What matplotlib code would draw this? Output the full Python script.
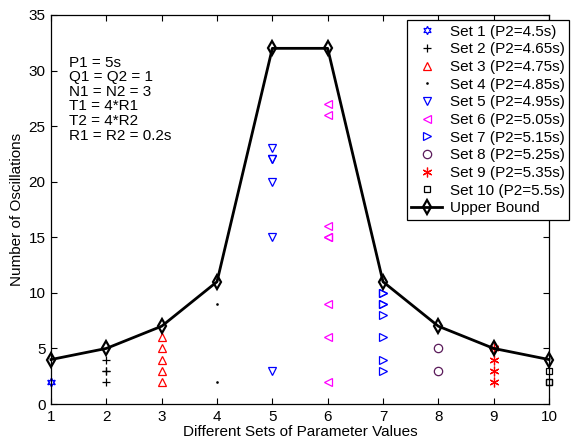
import matplotlib
matplotlib.use("Agg")
import matplotlib.pyplot as plt

plt.rcParams['font.family'] = ['Liberation Sans', 'DejaVu Sans']
plt.rcParams['font.size'] = 11

# --- Data ---
set_x = [1, 2, 3, 4, 5, 6, 7, 8, 9, 10]
set_values = [
    [2, 2],
    [4, 3, 3, 2],
    [6, 5, 4, 3, 2],
    [9, 2],
    [23, 22, 22, 20, 15, 3],
    [27, 26, 16, 15, 15, 9, 6, 2],
    [10, 10, 9, 9, 8, 6, 4, 3],
    [5, 3],
    [5, 4, 3, 2],
    [3, 2, 2],
]
set_labels = ['Set 1 (P2=4.5s)', 'Set 2 (P2=4.65s)', 'Set 3 (P2=4.75s)',
              'Set 4 (P2=4.85s)', 'Set 5 (P2=4.95s)', 'Set 6 (P2=5.05s)',
              'Set 7 (P2=5.15s)', 'Set 8 (P2=5.25s)', 'Set 9 (P2=5.35s)',
              'Set 10 (P2=5.5s)']
upper_bound = [4, 5, 7, 11, 32, 32, 11, 7, 5, 4]

# --- Styles ---
markers = [(6, 1, 0), '+', '^', '.', 'v', '<', '>', 'o', (6, 2, 0), 's']
colors = ['#0000ff', 'k', '#ff0000', 'k', '#0000ff', '#ff00ff', '#0000ff',
          '#5a1a5a', '#ff0000', 'k']
sizes = [6, 6, 6, 2, 6, 6, 6, 6, 7, 5]

fig = plt.figure(figsize=(5.73, 4.47), dpi=100)
ax = fig.add_axes([51 / 573, 43 / 447, 498 / 573, 389 / 447])

for i, (x, vals) in enumerate(zip(set_x, set_values)):
    ax.plot([x] * len(vals), vals, linestyle='none', marker=markers[i],
            color=colors[i], markerfacecolor='none', markeredgecolor=colors[i],
            markersize=sizes[i], markeredgewidth=0.9, label=set_labels[i],
            clip_on=False)

ax.plot(set_x, upper_bound, color='k', lw=2, marker='d', markersize=7,
        markerfacecolor='none', markeredgewidth=1.6, label='Upper Bound',
        clip_on=False)

ax.set_xlim(1, 10)
ax.set_ylim(0, 35)
ax.set_xticks(range(1, 11))
ax.set_yticks(range(0, 36, 5))
ax.tick_params(direction='in', top=True, right=True, length=4, width=0.8,
               labelsize=11, pad=4)
for s in ax.spines.values():
    s.set_linewidth(0.9)

ax.set_xlabel('Different Sets of Parameter Values', fontsize=11, labelpad=1)
ax.set_ylabel('Number of Oscillations', fontsize=11, labelpad=3)

ax.text(0.036, 0.895, 'P1 = 5s\nQ1 = Q2 = 1\nN1 = N2 = 3\nT1 = 4*R1\nT2 = 4*R2\nR1 = R2 = 0.2s',
        transform=ax.transAxes, va='top', ha='left', fontsize=11, linespacing=1.05)

leg = ax.legend(loc='upper right', bbox_to_anchor=(569 / 573, 1 - 20 / 447),
                bbox_transform=fig.transFigure, fontsize=11, frameon=True,
                fancybox=False, edgecolor='k', framealpha=1, borderpad=0.3,
                labelspacing=0.24, handlelength=2.0, handletextpad=0.5,
                borderaxespad=0)
leg.get_frame().set_linewidth(0.9)

fig.savefig('out.png', dpi=100)
